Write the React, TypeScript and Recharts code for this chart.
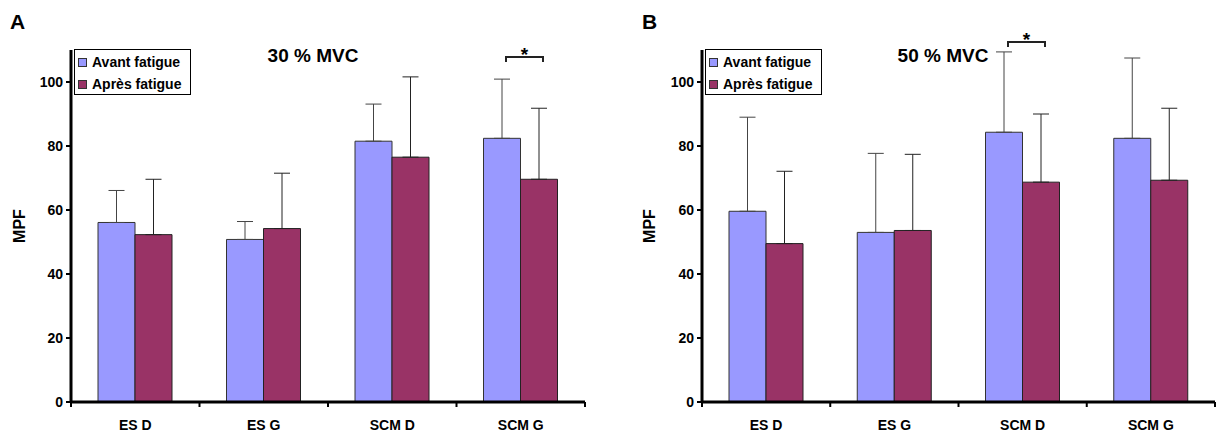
import React from 'react';
import { BarChart, Bar, XAxis, YAxis, ErrorBar, Rectangle } from 'recharts';

const categories = ['ES D', 'ES G', 'SCM D', 'SCM G'];
const yTicks = [0, 20, 40, 60, 80, 100];
const boundaryTicks = [0, 1, 2, 3, 4];

// 30 % MVC
const avant30 = [56.1, 50.8, 81.5, 82.4];
const avantErr30 = [10.0, 5.6, 11.6, 18.5];
const apres30 = [52.3, 54.2, 76.5, 69.6];
const apresErr30 = [17.3, 17.3, 25.1, 22.2];
const sig30 = [false, false, false, true];
const bracket30 = 107.8;

// 50 % MVC
const avant50 = [59.6, 53.0, 84.3, 82.4];
const avantErr50 = [29.4, 24.7, 25.1, 25.1];
const apres50 = [49.5, 53.6, 68.7, 69.3];
const apresErr50 = [22.6, 23.8, 21.3, 22.5];
const sig50 = [false, false, true, false];
const bracket50 = 112.5;

const FONT = '"Liberation Sans", Arial, sans-serif';
const AVANT = '#9999FF';
const APRES = '#993366';

function buildData(avant: number[], avantErr: number[], apres: number[], apresErr: number[], sig: boolean[], level: number) {
    return categories.map((c, i) => ({
        name: c,
        pos: i + 0.5,
        avant: avant[i],
        avantErr: [0, avantErr[i]],
        apres: apres[i],
        apresErr: [0, apresErr[i]],
        sig: sig[i],
        level
    }));
}

// avant bar + significance bracket (uses bar geometry to get the y scale)
const AvantShape = (props: any) => {
    const { x, y, width, height, payload } = props;
    let bracket = null;
    if (payload && payload.sig && height > 0) {
        const perUnit = height / payload.avant;
        const by = y + height - payload.level * perUnit;
        const x1 = x + width / 2 + 4;
        const x2 = x + width * 1.5 + 4;
        bracket = (
            <g>
                <path d={`M${x1},${by + 5}V${by}H${x2}V${by + 5}`} fill="none" stroke="#222" strokeWidth={2} />
                <text x={(x1 + x2) / 2} y={by + 4} textAnchor="middle" fontFamily={FONT} fontWeight="bold" fontSize={19} fill="#000">*</text>
            </g>
        );
    }
    return (
        <g>
            <Rectangle x={x} y={y} width={width} height={height} fill={AVANT} stroke="#333" strokeWidth={1} />
            {bracket}
        </g>
    );
};

interface PanelProps {
    left: number;
    width: number;
    plotLeft: number;
    plotRight: number;
    letter: string;
    title: string;
    titleX: number;
    mpfX: number;
    data: any[];
}

function Panel({ left, width, plotLeft, plotRight, letter, title, titleX, mpfX, data }: PanelProps) {
    const axisW = plotLeft - left;
    const tickStyle = { fontFamily: FONT, fontWeight: 'bold' as const, fontSize: 14, fill: '#000' };
    return (
        <div style={{ position: 'absolute', left, top: 0, width, height: 434 }}>
            <BarChart
                width={width}
                height={434}
                data={data}
                margin={{ top: 50, right: left + width - plotRight, left: 0, bottom: 0 }}
                barGap={0}
                barSize={37}
            >
                <XAxis
                    xAxisId="b"
                    dataKey="name"
                    height={31}
                    axisLine={false}
                    tickLine={false}
                    tick={tickStyle}
                    tickMargin={11}
                    interval={0}
                />
                {/* category boundaries: axis line + ticks between groups */}
                <XAxis
                    xAxisId="a"
                    type="number"
                    dataKey="pos"
                    domain={[0, 4]}
                    ticks={boundaryTicks}
                    tickFormatter={() => ''}
                    height={1}
                    axisLine={{ stroke: '#000', strokeWidth: 3 }}
                    tickLine={{ stroke: '#000', strokeWidth: 2 }}
                    tickSize={5}
                />
                <YAxis
                    domain={[0, 110]}
                    ticks={yTicks}
                    width={axisW}
                    axisLine={{ stroke: '#000', strokeWidth: 3 }}
                    tickLine={{ stroke: '#000', strokeWidth: 2 }}
                    tickSize={5}
                    tickMargin={3}
                    tick={tickStyle}
                    label={{
                        value: 'MPF',
                        content: (p: any) => {
                            const vb = p.viewBox;
                            const cx = vb.x + mpfX;
                            const cy = vb.y + vb.height / 2;
                            return (
                                <text x={cx} y={cy} transform={`rotate(-90 ${cx} ${cy})`} textAnchor="middle" dominantBaseline="central" fontFamily={FONT} fontWeight="bold" fontSize={16} fill="#000">MPF</text>
                            );
                        }
                    }}
                />
                <Bar xAxisId="b" dataKey="avant" fill={AVANT} shape={AvantShape} isAnimationActive={false}>
                    <ErrorBar dataKey="avantErr" direction="y" width={8} stroke="#444" strokeWidth={1} />
                </Bar>
                <Bar xAxisId="b" dataKey="apres" fill={APRES} stroke="#222" strokeWidth={1} isAnimationActive={false}>
                    <ErrorBar dataKey="apresErr" direction="y" width={8} stroke="#222" strokeWidth={1} />
                </Bar>
            </BarChart>
            <div style={{ position: 'absolute', left: letter === 'A' ? 10 : 32, top: 10, fontFamily: FONT, fontWeight: 'bold', fontSize: 21, lineHeight: '24px' }}>{letter}</div>
            <div style={{ position: 'absolute', left: titleX - left - 60, width: 120, top: 45, textAlign: 'center', fontFamily: FONT, fontWeight: 'bold', fontSize: 19, lineHeight: '22px' }}>{title}</div>
            <div style={{ position: 'absolute', left: plotLeft - left + 3, top: 49, width: 115, height: 44, border: '1px solid #000', background: '#fff', fontFamily: FONT, fontWeight: 'bold', fontSize: 14 }}>
                {[['Avant fatigue', AVANT], ['Après fatigue', APRES]].map(([label, color], i) => (
                    <div key={label} style={{ position: 'absolute', left: 3, top: 3 + i * 22, height: 18, display: 'flex', alignItems: 'center', whiteSpace: 'nowrap' }}>
                        <span style={{ display: 'inline-block', width: 7, height: 7, background: color, border: '1px solid #333', marginRight: 5 }} />
                        <span>{label}</span>
                    </div>
                ))}
            </div>
        </div>
    );
}

export default function App() {
    const data30 = buildData(avant30, avantErr30, apres30, apresErr30, sig30, bracket30);
    const data50 = buildData(avant50, avantErr50, apres50, apresErr50, sig50, bracket50);
    return (
        <div style={{ position: 'absolute', left: 0, top: 0, width: 1217, height: 434, background: '#fff' }}>
            <Panel left={0} width={600} plotLeft={71} plotRight={585} letter="A" title="30 % MVC" titleX={313} mpfX={19} data={data30} />
            <Panel left={610} width={607} plotLeft={702} plotRight={1215} letter="B" title="50 % MVC" titleX={943} mpfX={39} data={data50} />
        </div>
    );
}
